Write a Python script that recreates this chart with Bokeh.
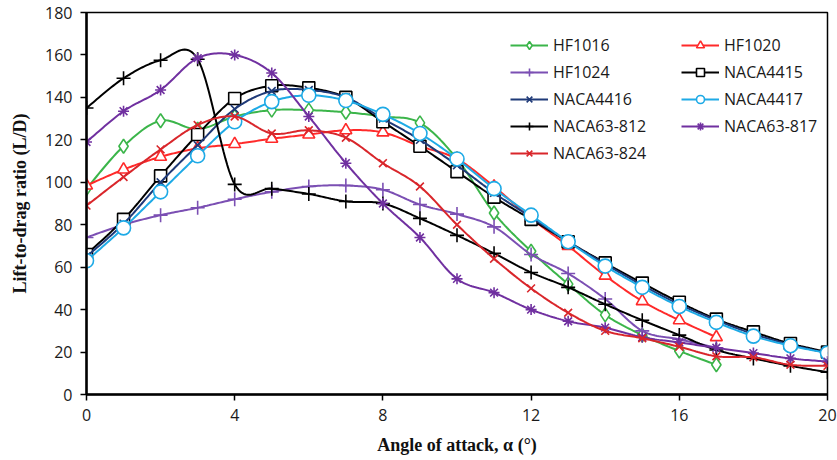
import numpy as np
from bokeh.plotting import figure
from bokeh.models import Range1d, SingleIntervalTicker, Legend, LegendItem
from bokeh.embed import file_html
from bokeh.resources import INLINE

# ---------------- data ----------------
angles_hf = list(range(0, 18))
angles_naca = list(range(0, 21))

hf1016 = [97, 117, 129, 125, 131, 134, 134, 133, 131, 128, 111, 85.5, 67.5, 52, 37.5, 28, 20.5, 14]
hf1020 = [98.5, 106, 112, 116, 118, 120.5, 122.5, 124.5, 123.5, 117, 111, 98, 83, 70, 56, 44, 35, 27]
hf1024 = [74, 80, 84.5, 88, 92, 95.5, 98, 98.5, 96.5, 89.5, 85, 79, 66, 57, 45, 30, 26, 22]
naca4415 = [66, 82.5, 103, 122.5, 139.5, 145.5, 144.5, 140, 128.5, 117, 105, 93, 82.5, 72, 62, 52.5, 43.5, 35.5, 29.5, 24, 20]
naca4416 = [65, 80.5, 100, 117.5, 134.5, 143, 143.5, 140, 130, 120, 108, 95, 83.5, 72, 61.5, 51.5, 42.5, 35, 28.5, 23.5, 19.5]
naca4417 = [63, 78.5, 95.5, 112.5, 128.5, 138, 141, 138.5, 132, 123, 111, 97, 84.5, 72, 60.5, 50.5, 41.5, 34, 27.5, 23, 19.5]
naca63_812 = [135, 149, 157.5, 158, 99, 97, 94.5, 91, 90, 83, 75, 66.5, 57.5, 50.5, 42.5, 35, 28, 21, 17, 13.5, 10.5]
naca63_817 = [119, 133.5, 143.5, 158.5, 160, 151.5, 131, 109, 90, 74, 54.5, 48, 40, 34.5, 31.5, 27, 24.5, 22, 19.5, 17, 15.5]
naca63_824 = [89, 102.5, 115.5, 127, 131, 123, 124.5, 121, 109, 98, 80, 64, 50, 38.5, 30, 26.5, 22.5, 18, 17.5, 14, 13.5]

x_ticks_interval = 4
y_ticks_interval = 20

series = [
    ("HF1016", angles_hf, hf1016, "#3BB54A", "diamond"),
    ("HF1020", angles_hf, hf1020, "#FF2A2A", "triangle"),
    ("HF1024", angles_hf, hf1024, "#7B4FB3", "cross"),
    ("NACA4415", angles_naca, naca4415, "#000000", "square"),
    ("NACA4416", angles_naca, naca4416, "#1F3A78", "x"),
    ("NACA4417", angles_naca, naca4417, "#1EAAE6", "circle"),
    ("NACA63-812", angles_naca, naca63_812, "#000000", "cross"),
    ("NACA63-817", angles_naca, naca63_817, "#7030A0", "asterisk"),
    ("NACA63-824", angles_naca, naca63_824, "#D9262B", "x"),
]

marker_sizes = {"circle": 14, "square": 12, "triangle": 12, "diamond": 14,
                "cross": 14, "x": 11, "asterisk": 11}


def smooth_curve(xs, ys, n=20):
    """Excel-style smoothed line (Catmull-Rom Bezier) through the data points."""
    P = np.column_stack([np.asarray(xs, float), np.asarray(ys, float)])
    m = len(P)
    out = []
    for i in range(m - 1):
        p0 = P[i - 1] if i > 0 else P[i]
        p1 = P[i]
        p2 = P[i + 1]
        p3 = P[i + 2] if i + 2 < m else P[i + 1]
        c1 = p1 + (p2 - p0) / 6.0
        c2 = p2 - (p3 - p1) / 6.0
        ts = np.linspace(0, 1, n, endpoint=(i == m - 2))
        for t in ts:
            b = ((1 - t) ** 3) * p1 + 3 * ((1 - t) ** 2) * t * c1 + 3 * (1 - t) * t * t * c2 + t ** 3 * p2
            out.append(b)
    out = np.array(out)
    return out[:, 0], out[:, 1]


p = figure(width=837, height=460, output_backend="svg", toolbar_location=None,
           x_range=Range1d(0, 20), y_range=Range1d(0, 180),
           min_border_left=86, min_border_right=10, min_border_top=12, min_border_bottom=66)

p.xgrid.visible = False
p.ygrid.visible = False
p.outline_line_color = "black"
p.outline_line_width = 1.5

p.xaxis.ticker = SingleIntervalTicker(interval=x_ticks_interval)
p.yaxis.ticker = SingleIntervalTicker(interval=y_ticks_interval)
for ax in (p.xaxis[0], p.yaxis[0]):
    ax.axis_line_width = 2.5
    ax.axis_line_color = "black"
    ax.major_tick_line_width = 1.5
    ax.major_tick_line_color = "black"
    ax.major_tick_out = 6
    ax.major_tick_in = 0
    ax.minor_tick_out = 0
    ax.minor_tick_in = 0
    ax.major_label_text_font = "Open Sans"
    ax.major_label_text_font_size = "16px"
    ax.major_label_text_color = "#1a1a1a"
    ax.major_label_standoff = 8
    ax.axis_label_text_font = "Liberation Serif"
    ax.axis_label_text_font_style = "bold"
    ax.axis_label_text_font_size = "18px"
    ax.axis_label_text_color = "#111111"

p.xaxis.axis_label = "Angle of attack, α (°)"
p.yaxis.axis_label = "Lift-to-drag ratio (L/D)"
p.xaxis.axis_label_standoff = 11
p.yaxis.axis_label_standoff = 12

items = []
for name, xs, ys, color, marker in series:
    sx, sy = smooth_curve(xs, ys)
    lr = p.line(sx, sy, line_color=color, line_width=2)
    sr = p.scatter(xs, ys, marker=marker, size=marker_sizes[marker], line_color=color,
                   fill_color="white", line_width=1.6)
    items.append(LegendItem(label=name, renderers=[lr, sr]))

legend = Legend(items=items, orientation="horizontal", ncols=2,
                location=(424, 230), border_line_color=None,
                background_fill_alpha=0, padding=0, margin=0,
                glyph_width=38, glyph_height=20, label_height=20,
                label_width=123, spacing=5, label_standoff=5,
                label_text_font="Open Sans", label_text_font_size="16px",
                label_text_color="#1a1a1a")
p.add_layout(legend, "center")

open("out.html", "w").write(file_html(p, INLINE))
